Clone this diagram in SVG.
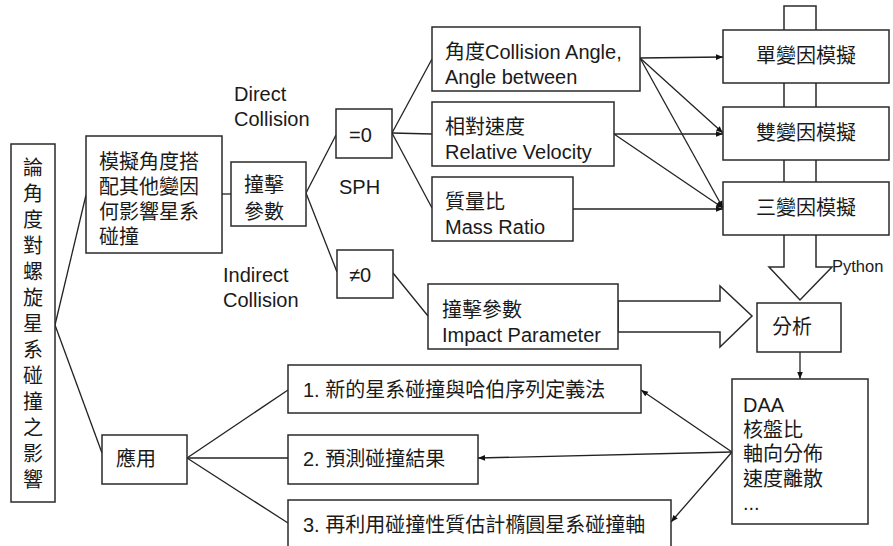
<svg xmlns="http://www.w3.org/2000/svg" width="893" height="546" viewBox="0 0 893 546">
<defs>
<style>
text{font-family:"Liberation Sans","Noto Sans CJK TC",sans-serif;font-size:20px;fill:#1a1a1a}
.py{font-size:16.5px}
rect,.blk{fill:#fff;stroke:#2a2a2a;stroke-width:1.5}
.c line{stroke:#222;stroke-width:1.3;fill:none}
.c .a{marker-end:url(#ah)}
.mid{text-anchor:middle}
</style>
<marker id="ah" viewBox="0 0 10 10" refX="10" refY="5" markerWidth="9" markerHeight="7" orient="auto" markerUnits="userSpaceOnUse"><path d="M0,1 L10,5 L0,9 z" fill="#111"/></marker>
</defs>
<rect x="0" y="0" width="893" height="546" style="fill:#fff;stroke:none"/>

<g id="bigarrows">
<polygon class="blk" points="784,6 816,6 816,267 832,267 800,300 769,267 784,267"/>
<polygon class="blk" points="618,301 720,301 720,286 752,316 720,347 720,332 618,332"/>
</g>

<g class="c" id="connectors">
<line x1="55" y1="325" x2="86" y2="195"/>
<line x1="55" y1="325" x2="102" y2="453"/>
<line x1="222" y1="194" x2="231" y2="194"/>
<line x1="306" y1="193" x2="336" y2="135"/>
<line x1="306" y1="193" x2="337" y2="272"/>
<line x1="392" y1="133" x2="432" y2="59"/>
<line x1="392" y1="133" x2="432" y2="134"/>
<line x1="392" y1="133" x2="432" y2="208"/>
<line x1="393" y1="273" x2="428" y2="316"/>
<line x1="187" y1="458" x2="288" y2="390"/>
<line x1="187" y1="458" x2="288" y2="458"/>
<line x1="187" y1="458" x2="288" y2="523"/>
<line class="a" x1="640" y1="58" x2="723" y2="57"/>
<line class="a" x1="640" y1="58" x2="723" y2="133"/>
<line class="a" x1="640" y1="58" x2="723" y2="208"/>
<line class="a" x1="614" y1="134" x2="723" y2="134"/>
<line class="a" x1="614" y1="134" x2="723" y2="208"/>
<line class="a" x1="573" y1="209" x2="723" y2="209"/>
<line class="a" x1="800" y1="352" x2="800" y2="379"/>
<line class="a" x1="732" y1="452" x2="641" y2="390"/>
<line class="a" x1="732" y1="452" x2="478" y2="458"/>
<line class="a" x1="732" y1="452" x2="671" y2="522"/>
</g>

<g id="root">
<rect x="11" y="144" width="44" height="358"/>
<text class="mid">
<tspan x="33" y="175">論</tspan><tspan x="33" y="201">角</tspan><tspan x="33" y="227">度</tspan><tspan x="33" y="253">對</tspan><tspan x="33" y="279">螺</tspan><tspan x="33" y="305">旋</tspan><tspan x="33" y="331">星</tspan><tspan x="33" y="357">系</tspan><tspan x="33" y="383">碰</tspan><tspan x="33" y="409">撞</tspan><tspan x="33" y="435">之</tspan><tspan x="33" y="461">影</tspan><tspan x="33" y="487">響</tspan>
</text>
</g>

<g id="sim">
<rect x="86" y="136" width="136" height="117"/>
<text><tspan x="99" y="168.7">模擬角度搭</tspan><tspan x="99" y="193.7">配其他變因</tspan><tspan x="99" y="218.7">何影響星系</tspan><tspan x="99" y="243.7">碰撞</tspan></text>
</g>

<g id="impact">
<rect x="231" y="162" width="75" height="64"/>
<text><tspan x="244" y="192">撞擊</tspan><tspan x="244" y="218.5">參數</tspan></text>
</g>

<g id="labels">
<text><tspan x="234" y="101">Direct</tspan><tspan x="234" y="125.5">Collision</tspan></text>
<text><tspan x="223" y="282">Indirect</tspan><tspan x="223" y="306.5">Collision</tspan></text>
<text x="339" y="194">SPH</text>
<text class="py" x="832" y="272">Python</text>
</g>

<g id="eq0">
<rect x="336" y="109" width="56" height="49"/>
<text x="349" y="142">=0</text>
</g>

<g id="ne0">
<rect x="337" y="250" width="56" height="48"/>
<text x="349" y="282">≠0</text>
</g>

<g id="angle">
<rect x="432" y="27" width="208" height="64"/>
<text><tspan x="445" y="58.7">角度Collision Angle,</tspan><tspan x="445" y="83.7">Angle between</tspan></text>
</g>

<g id="velocity">
<rect x="432" y="102" width="182" height="64"/>
<text><tspan x="445" y="133.7">相對速度</tspan><tspan x="445" y="158.7">Relative Velocity</tspan></text>
</g>

<g id="mass">
<rect x="432" y="177" width="141" height="64"/>
<text><tspan x="445" y="208.7">質量比</tspan><tspan x="445" y="233.7">Mass Ratio</tspan></text>
</g>

<g id="impactparam">
<rect x="428" y="284" width="190" height="65"/>
<text><tspan x="442" y="317">撞擊參數</tspan><tspan x="442" y="342">Impact Parameter</tspan></text>
</g>

<g id="single">
<rect x="723" y="30" width="166" height="53"/>
<text class="mid" x="806" y="63">單變因模擬</text>
</g>
<g id="double">
<rect x="723" y="107" width="166" height="53"/>
<text class="mid" x="806" y="140">雙變因模擬</text>
</g>
<g id="triple">
<rect x="723" y="182" width="166" height="53"/>
<text class="mid" x="806" y="215">三變因模擬</text>
</g>

<g id="analysis">
<rect x="757" y="303" width="84" height="49"/>
<text x="772" y="334">分析</text>
</g>

<g id="results">
<rect x="732" y="379" width="136" height="145"/>
<text><tspan x="743" y="412">DAA</tspan><tspan x="743" y="436.5">核盤比</tspan><tspan x="743" y="461">軸向分佈</tspan><tspan x="743" y="485.5">速度離散</tspan><tspan x="743" y="510">...</tspan></text>
</g>

<g id="apply">
<rect x="102" y="435" width="85" height="49"/>
<text x="116" y="466">應用</text>
</g>

<g id="app1">
<rect x="288" y="365" width="353" height="48"/>
<text x="303" y="397">1. 新的星系碰撞與哈伯序列定義法</text>
</g>
<g id="app2">
<rect x="288" y="435" width="190" height="49"/>
<text x="303" y="466">2. 預測碰撞結果</text>
</g>
<g id="app3">
<rect x="288" y="500" width="383" height="60"/>
<text x="303" y="532">3. 再利用碰撞性質估計橢圓星系碰撞軸</text>
</g>
</svg>
